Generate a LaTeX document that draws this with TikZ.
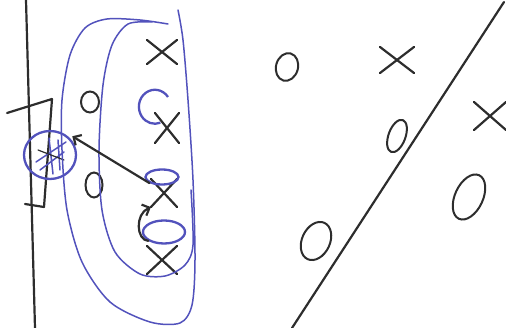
\documentclass[tikz,border=0pt]{standalone}
\usetikzlibrary{arrows.meta,shapes.geometric,shapes.misc}

\definecolor{penblue}{RGB}{82,82,188}
\definecolor{lead}{RGB}{45,45,45}

\begin{document}
\begin{tikzpicture}[x=1pt, y=-1pt,
  ink/.style={draw=lead, line width=2.2pt, line cap=round, line join=round},
  pen/.style={draw=penblue, line width=1.5pt, line cap=round, line join=round},
  xmark/.style={cross out, draw=lead, line width=2.2pt, line cap=round, inner sep=0pt},
  omark/.style={ellipse, draw=lead, line width=2pt, inner sep=0pt},
  bluering/.style={ellipse, draw=penblue, line width=2.3pt, inner sep=0pt},
  play/.style={ink, -{Straight Barb[length=6pt,width=12pt]}}]

  \useasboundingbox (0,0) rectangle (506,328);

  % sideline and the bracket
  \draw[ink] (26,0) -- (35,328);
  \draw[ink] (7,113) -- (52,99) -- (44,207) -- (25,204);

  % players on the left side
  \node[xmark, minimum width=28pt, minimum height=22pt] (xTop) at (162,52) {};
  \node[xmark, minimum width=22pt, minimum height=28pt] (xMid) at (167,128) {};
  \node[xmark, minimum width=24pt, minimum height=26pt] (xLow) at (164,193) {};
  \node[xmark, minimum width=28pt, minimum height=26pt] (xBot) at (162,260) {};
  \node[omark, minimum width=18pt, minimum height=21pt] (oUp) at (90,102) {};
  \node[omark, minimum width=17pt, minimum height=25pt] (oDown) at (94,185) {};

  % circled player and blue marks
  \node[bluering, minimum width=52pt, minimum height=48pt, outer sep=4pt] (ring) at (50,155) {};
  \draw[pen] (36,162) -- (66,142) (40,170) -- (64,152) (49,138) -- (53,174) (58,140) -- (60,170);
  \draw[ink, line width=1.2pt] (38,150) -- (64,160);
  \draw[bluering] (168,97) arc[start angle=-35, end angle=-290, x radius=16, y radius=17];
  \node[bluering, minimum width=33pt, minimum height=15pt] (lowRing) at (162,177) {};
  \node[bluering, minimum width=42pt, minimum height=23pt] (botRing) at (164,232) {};

  % the two lassos
  \draw[pen] plot[smooth] coordinates {(168,24) (140,20) (107,19) (85,28) (70,55) (62,100)
    (62,150) (67,210) (82,262) (110,302) (150,322) (180,323) (192,305) (195,260)
    (193,180) (188,100) (183,40) (178,10)};
  \draw[pen] plot[smooth] coordinates {(152,22) (128,24) (112,45) (103,85) (99,150)
    (102,210) (115,252) (140,274) (165,276) (185,265) (193,245) (191,190)};

  % moves
  \draw[play] (lowRing.south west) -- (ring.40);
  \draw[play] (botRing.south west) .. controls (136,240) and (135,214) .. (xLow.south west);

  % right side
  \draw[ink] (504,2) -- (292,328);
  \node[omark, minimum width=22pt, minimum height=28pt, rotate=-15] (oA) at (287,67) {};
  \node[xmark, minimum width=32pt, minimum height=24pt] (xA) at (397,60) {};
  \node[omark, minimum width=17pt, minimum height=34pt, rotate=-20] (oB) at (397,136) {};
  \node[xmark, minimum width=30pt, minimum height=26pt] (xB) at (490,116) {};
  \node[omark, minimum width=28pt, minimum height=48pt, rotate=-25] (oC) at (469,197) {};
  \node[omark, minimum width=28pt, minimum height=40pt, rotate=-25] (oD) at (316,241) {};
\end{tikzpicture}
\end{document}
